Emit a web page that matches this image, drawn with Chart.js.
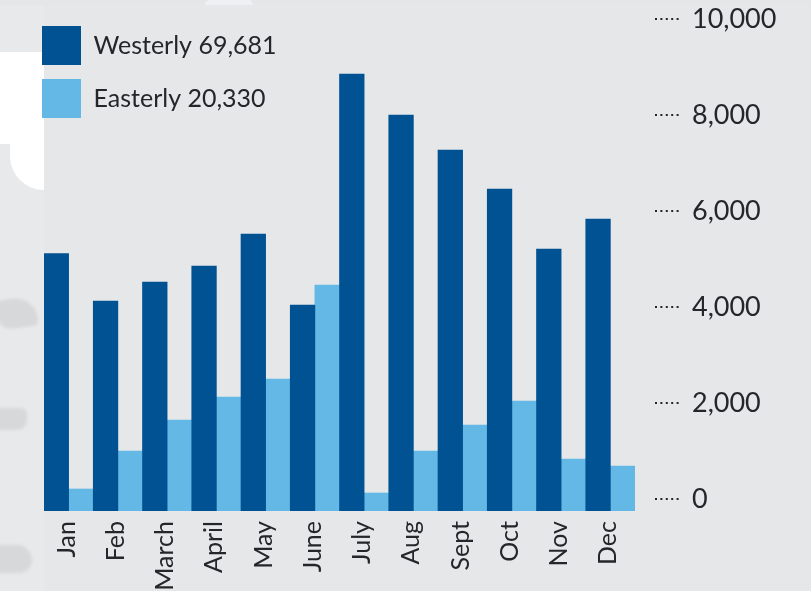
<!DOCTYPE html>
<html><head><meta charset="utf-8">
<style>
html,body{margin:0;padding:0;width:811px;height:591px;overflow:hidden;background:#e6e7e9}
#bg{position:absolute;left:0;top:0;width:811px;height:591px;overflow:hidden}
#bg div{position:absolute}
#strip{left:0;top:0;width:44px;height:591px;background:#e8e9ea}
#topstrip{left:0;top:0;width:811px;height:5px;background:#e5e6e8}
#top-blob{left:205px;top:0;width:48px;height:5px;background:#eef0f3;border-radius:24px 24px 0 0}
#w1{left:0;top:52px;width:44px;height:92px;background:#fff}
#w2{left:10px;top:100px;width:34px;height:90px;background:#fff;border-radius:0 0 0 34px}
.g{background:#d7d8da;filter:blur(1.5px)}
canvas{position:absolute;left:0;top:0}
</style></head><body>
<div id="bg">
<div id="strip"></div><div id="topstrip"></div><div id="top-blob"></div>
<div class="g" style="left:-4px;top:298px;width:42px;height:30px;border-radius:8px 30px 4px 20px;transform:skewY(-8deg)"></div>
<div class="g" style="left:-4px;top:408px;width:31px;height:22px;border-radius:4px 6px 10px 4px"></div>
<div class="g" style="left:-4px;top:545px;width:36px;height:28px;border-radius:10px 24px 20px 4px"></div>
<div id="w1"></div><div id="w2"></div>
</div>
<canvas id="c" width="811" height="591"></canvas>
<script src="https://cdn.jsdelivr.net/npm/chart.js@4"></script>
<script>
const months=['Jan','Feb','March','April','May','June','July','Aug','Sept','Oct','Nov','Dec'];
const westerly=[5150,4200,4580,4900,5540,4120,8740,7920,7220,6440,5240,5840];
const easterly=[440,1200,1820,2280,2640,4520,360,1200,1720,2200,1040,900];
const westerlyLabel='Westerly 69,681';
const easterlyLabel='Easterly 20,330';
const axisTicks=[0,2000,4000,6000,8000,10000];
const FONT='Lato';
const INK='#26262a';

const dottedTicks={id:'dottedTicks',afterDraw(chart){
  const s=chart.scales.yr,ctx=chart.ctx;
  ctx.save();ctx.strokeStyle=INK;ctx.lineWidth=2;ctx.setLineDash([2,3.4]);
  axisTicks.forEach(v=>{const y=Math.round(s.getPixelForValue(v));
    ctx.beginPath();ctx.moveTo(s.left+20,y);ctx.lineTo(s.left+45,y);ctx.stroke();});
  ctx.restore();
}};
const legendFloat={id:'legendFloat',
  beforeLayout(chart){ if(chart.legend) Chart.layouts.removeBox(chart,chart.legend); },
  afterLayout(chart){ const l=chart.legend; l.update(320,160,{left:0,top:0,right:0,bottom:0}); l.left=28;l.top=12;l.right=l.left+l.width;l.bottom=l.top+l.height; },
  afterDraw(chart){ chart.legend.draw(chart.chartArea); }
};

new Chart(document.getElementById('c'),{
  type:'bar',
  data:{labels:months,datasets:[
    {label:westerlyLabel,data:westerly,backgroundColor:'#005293',yAxisID:'y',barPercentage:1,categoryPercentage:1},
    {label:easterlyLabel,data:easterly,backgroundColor:'#63b8e6',yAxisID:'y',barPercentage:1,categoryPercentage:1}
  ]},
  options:{
    responsive:false,animation:false,
    layout:{autoPadding:false,padding:{left:44,top:7,right:0,bottom:0}},
    plugins:{
      tooltip:{enabled:false},
      legend:{position:'left',align:'start',
        labels:{boxWidth:39,boxHeight:39,padding:14,color:INK,font:{family:FONT,size:25}}}
    },
    scales:{
      x:{grid:{display:false},border:{display:false},
        afterFit(s){s.height=80;s.paddingTop=0;s.paddingBottom=0;},
        ticks:{minRotation:90,maxRotation:90,autoSkip:false,padding:2,labelOffset:-2,color:INK,font:{family:FONT,size:25}}},
      y:{display:false,min:0,max:10080},
      yr:{position:'right',min:-250,max:10250,
        afterFit(s){s.width=176;s.paddingTop=0;s.paddingBottom=0;},
        afterBuildTicks(s){s.ticks=axisTicks.map(v=>({value:v}));},
        grid:{display:false},border:{display:false},
        ticks:{padding:49,color:INK,font:{family:FONT,size:27},callback:v=>v.toLocaleString('en-US')}}
    }
  },
  plugins:[dottedTicks,legendFloat]
});
</script>
</body></html>
